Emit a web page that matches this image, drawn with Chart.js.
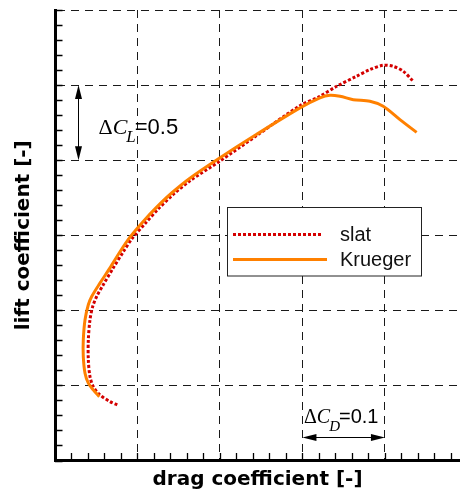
<!DOCTYPE html>
<html>
<head>
<meta charset="utf-8">
<script src="https://cdn.jsdelivr.net/npm/chart.js@4.4.1/dist/chart.umd.min.js"></script>
<style>
  html, body { margin: 0; padding: 0; background: #fff; }
</style>
</head>
<body>
<canvas id="polar" width="460" height="492"></canvas>
<script>
// drag polar, slat vs Krueger (no tick labels in the original, values in CD / CL)
const seriesNames = ["slat", "Krueger"];

const slatCd = [0.0755, 0.0667, 0.0545, 0.0464, 0.0424, 0.0404, 0.0404, 0.0424, 0.0457, 0.0505,
  0.0585, 0.0707, 0.0828, 0.0933, 0.1091, 0.1248, 0.1430, 0.1648, 0.1988, 0.2448,
  0.2970, 0.3212, 0.3415, 0.3657, 0.3818, 0.3979, 0.4100, 0.4222, 0.4336];
const slatCl = [0.370, 0.392, 0.437, 0.492, 0.559, 0.670, 0.803, 0.937, 1.025, 1.092,
  1.170, 1.283, 1.390, 1.477, 1.577, 1.673, 1.770, 1.867, 1.990, 2.165,
  2.363, 2.425, 2.492, 2.559, 2.603, 2.632, 2.625, 2.592, 2.530];

const kruegerCd = [0.0537, 0.0464, 0.0404, 0.0364, 0.0343, 0.0343, 0.0364, 0.0404, 0.0445, 0.0545,
  0.0667, 0.0788, 0.0909, 0.1067, 0.1233, 0.1418, 0.1636, 0.1964, 0.2445, 0.2970,
  0.3212, 0.3333, 0.3455, 0.3616, 0.3818, 0.3979, 0.4182, 0.4384];
const kruegerCl = [0.425, 0.470, 0.515, 0.581, 0.692, 0.803, 0.937, 1.037, 1.092, 1.181,
  1.283, 1.390, 1.487, 1.590, 1.687, 1.783, 1.880, 2.003, 2.172, 2.348,
  2.415, 2.432, 2.425, 2.403, 2.392, 2.359, 2.270, 2.185];

// tick spacing (major = dashed grid, minor = small inward ticks)
const xMajor = 0.1, xMinor = 0.02;
const yMajor = 0.5, yMinor = 0.1;

// the two delta annotations
const clArrow = { x: 0.0282, from: 2.0, to: 2.5, label: "L", value: "=0.5" };
const cdArrow = { y: 0.159, from: 0.3, to: 0.4, label: "D", value: "=0.1" };

function toPoints(xs, ys) {
  return xs.map((x, i) => ({ x: x, y: ys[i] }));
}

function stepTicks(min, max, step) {
  const out = [];
  for (let i = 0; min + i * step <= max + 1e-9; i++) {
    out.push({ value: +(min + i * step).toFixed(4) });
  }
  return out;
}

function isMajor(v, step) {
  if (v === undefined) return false;
  const r = v / step;
  return Math.abs(r - Math.round(r)) < 1e-6;
}

function arrowHead(ctx, x, y, dx, dy) {
  const len = 14, half = 3.5;
  const nx = -dy, ny = dx;
  ctx.beginPath();
  ctx.moveTo(x, y);
  ctx.lineTo(x - dx * len + nx * half, y - dy * len + ny * half);
  ctx.lineTo(x - dx * len - nx * half, y - dy * len - ny * half);
  ctx.closePath();
  ctx.fill();
}

function deltaText(ctx, x, y, size, sub, subSize, value) {
  ctx.textBaseline = "alphabetic";
  ctx.textAlign = "left";
  ctx.font = size + "px 'Liberation Serif'";
  ctx.fillText("\u0394", x, y);
  x += ctx.measureText("\u0394").width;
  ctx.font = "italic " + size + "px 'Liberation Serif'";
  ctx.fillText("C", x, y);
  x += ctx.measureText("C").width - 1;
  ctx.font = "italic " + subSize + "px 'Liberation Serif'";
  ctx.fillText(sub, x, y + 8);
  x += ctx.measureText(sub).width - 1;
  ctx.font = size + "px 'Liberation Sans'";
  ctx.fillText(value, x, y);
}

const extras = {
  id: "extras",
  afterDatasetsDraw(chart) {
    const { ctx, chartArea: a } = chart;
    const xs = chart.scales.x, ys = chart.scales.y;
    ctx.save();

    // inward tick marks
    ctx.strokeStyle = "#000";
    ctx.lineWidth = 1.3;
    ctx.beginPath();
    xs.ticks.forEach(t => {
      const px = Math.round(xs.getPixelForValue(t.value)) + 0.5;
      ctx.moveTo(px, a.bottom);
      ctx.lineTo(px, a.bottom - 7.5);
    });
    ys.ticks.forEach(t => {
      const py = Math.round(ys.getPixelForValue(t.value)) + 0.5;
      ctx.moveTo(a.left, py);
      ctx.lineTo(a.left + 7.5, py);
    });
    ctx.stroke();

    // delta CL arrow
    ctx.fillStyle = "#000";
    ctx.strokeStyle = "#000";
    ctx.lineWidth = 1;
    let ax = Math.round(xs.getPixelForValue(clArrow.x)) + 0.5;
    let ay0 = ys.getPixelForValue(clArrow.to), ay1 = ys.getPixelForValue(clArrow.from);
    ctx.beginPath();
    ctx.moveTo(ax, ay0 + 8);
    ctx.lineTo(ax, ay1 - 8);
    ctx.stroke();
    arrowHead(ctx, ax, ay0, 0, -1);
    arrowHead(ctx, ax, ay1, 0, 1);
    deltaText(ctx, ax + 20, ay0 + 49, 22, clArrow.label, 17, clArrow.value);

    // delta CD arrow
    let by = Math.round(ys.getPixelForValue(cdArrow.y)) + 0.5;
    let bx0 = xs.getPixelForValue(cdArrow.from), bx1 = xs.getPixelForValue(cdArrow.to);
    ctx.beginPath();
    ctx.moveTo(bx0 + 8, by);
    ctx.lineTo(bx1 - 8, by);
    ctx.stroke();
    arrowHead(ctx, bx0, by, -1, 0);
    arrowHead(ctx, bx1, by, 1, 0);
    deltaText(ctx, bx0 + 1.5, by - 15, 20, cdArrow.label, 15, cdArrow.value);

    // legend box
    const lx = 227.5, ly = 207.5, lw = 194, lh = 68.5;
    ctx.fillStyle = "#fff";
    ctx.fillRect(lx, ly, lw, lh);
    ctx.strokeStyle = "#222";
    ctx.lineWidth = 1;
    ctx.strokeRect(lx, ly, lw, lh);
    const rows = [234.5, 259.5];
    chart.data.datasets.forEach((ds, i) => {
      ctx.strokeStyle = ds.borderColor;
      ctx.lineWidth = ds.borderWidth;
      ctx.setLineDash(ds.borderDash || []);
      ctx.beginPath();
      ctx.moveTo(233, rows[i]);
      ctx.lineTo(i === 0 ? 322 : 327, rows[i]);
      ctx.stroke();
      ctx.setLineDash([]);
      ctx.fillStyle = "#111";
      ctx.font = "20px 'Liberation Sans'";
      ctx.textBaseline = "alphabetic";
      ctx.fillText(ds.label, 340, rows[i] + 6.5);
    });

    ctx.restore();
  }
};

const titleFont = { family: "'DejaVu Sans'", size: 20, weight: "bold" };

const config = {
  type: "scatter",
  data: {
    datasets: [
      {
        label: seriesNames[0],
        data: toPoints(slatCd, slatCl),
        showLine: true,
        borderColor: "#d40000",
        borderWidth: 3,
        borderDash: [3, 2],
        pointRadius: 0,
        tension: 0.3,
        order: 1,
      },
      {
        label: seriesNames[1],
        data: toPoints(kruegerCd, kruegerCl),
        showLine: true,
        borderColor: "#ff8000",
        borderWidth: 3,
        pointRadius: 0,
        tension: 0.3,
        order: 0,
      },
    ],
  },
  options: {
    responsive: false,
    animation: false,
    layout: { padding: { left: 0, right: 0, top: 10, bottom: 0 } },
    plugins: {
      legend: { display: false },
      tooltip: { enabled: false },
    },
    scales: {
      x: {
        type: "linear",
        min: 0,
        max: 0.491,
        afterBuildTicks: s => { s.ticks = stepTicks(0, 0.48, xMinor); },
        ticks: { display: false },
        grid: {
          drawTicks: false,
          lineWidth: 1,
          color: c => isMajor(c.tick && c.tick.value, xMajor) ? "#1a1a1a" : "rgba(0,0,0,0)",
        },
        border: { display: true, color: "#000", width: 3, dash: [8, 6] },
        title: {
          display: true,
          text: "drag coefficient [-]",
          color: "#000",
          font: titleFont,
          padding: { top: 7.5, bottom: 0 },
        },
      },
      y: {
        type: "linear",
        min: 0,
        max: 3,
        afterBuildTicks: s => { s.ticks = stepTicks(0, 3, yMinor); },
        ticks: { display: false },
        grid: {
          drawTicks: false,
          lineWidth: 1,
          color: c => isMajor(c.tick && c.tick.value, yMajor) ? "#1a1a1a" : "rgba(0,0,0,0)",
        },
        border: { display: true, color: "#000", width: 3, dash: [8, 6] },
        title: {
          display: true,
          text: "lift coefficient [-]",
          color: "#000",
          font: titleFont,
          padding: { top: 11.5, bottom: 19.5 },
        },
      },
    },
  },
  plugins: [extras],
};

const polarChart = new Chart(document.getElementById("polar"), config);
</script>
</body>
</html>
